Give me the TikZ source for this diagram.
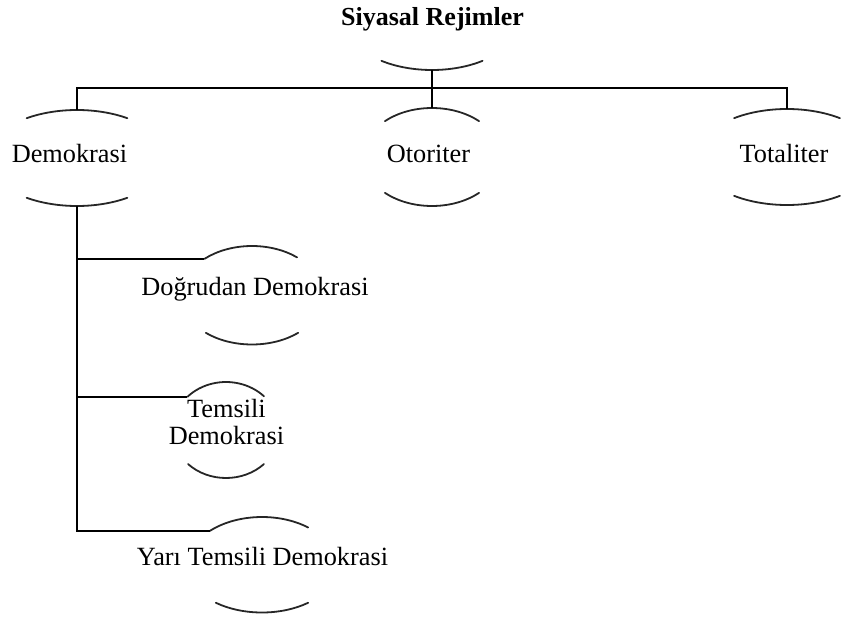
\documentclass[tikz,border=0pt]{standalone}
\usepackage{fontspec}
\setmainfont{Liberation Serif}
\begin{document}
\begin{tikzpicture}[x=1pt,y=1pt,
  lbl/.style={font=\fontsize{26.3}{27}\selectfont, inner sep=0pt, anchor=base, align=center},
  titlelbl/.style={font=\bfseries\fontsize{26}{27}\selectfont, inner sep=0pt, anchor=base},
  conn/.style={line width=2pt, black},
  arcline/.style={line width=1.8pt, black!85, line cap=round}]
\useasboundingbox (0,0) rectangle (843,-623);

% texts
\node[titlelbl] (title) at (432.5,-26) {Siyasal Rejimler};
\node[lbl] (dem) at (69.5,-162) {Demokrasi};
\node[lbl] (oto) at (428.5,-162) {Otoriter};
\node[lbl] (tot) at (784,-162) {Totaliter};
\node[lbl] (dog) at (255,-295) {Do\u{g}rudan Demokrasi};
\node[lbl, anchor=center] (tem) at (226.5,-422.5) {Temsili\\Demokrasi};
\node[lbl] (yar) at (262.5,-565) {Yar\i{} Temsili Demokrasi};

% ellipse centres
\coordinate (rootC) at (432,-22);
\coordinate (demC) at (77,-158);
\coordinate (otoC) at (432,-157);
\coordinate (totC) at (787,-157);
\coordinate (dogC) at (252,-296);
\coordinate (temC) at (226,-430.5);
\coordinate (yarC) at (262,-566.5);

% visible arcs of the ellipses
\draw[arcline] (rootC) ++(234:86 and 48) arc[start angle=234, end angle=306, x radius=86, y radius=48];

\draw[arcline] (demC) ++(56:90 and 48) arc[start angle=56, end angle=124, x radius=90, y radius=48];
\draw[arcline] (demC) ++(236:90 and 48) arc[start angle=236, end angle=304, x radius=90, y radius=48];

\draw[arcline] (otoC) ++(47:69 and 49) arc[start angle=47, end angle=133, x radius=69, y radius=49];
\draw[arcline] (otoC) ++(227:69 and 49) arc[start angle=227, end angle=313, x radius=69, y radius=49];

\draw[arcline] (totC) ++(54:90 and 48) arc[start angle=54, end angle=126, x radius=90, y radius=48];
\draw[arcline] (totC) ++(234:90 and 48) arc[start angle=234, end angle=306, x radius=90, y radius=48];

\draw[arcline] (dogC) ++(50.6:71 and 50) arc[start angle=50.6, end angle=132, x radius=71, y radius=50];
\draw[arcline] (dogC) ++(229.4:71 and 48.5) arc[start angle=229.4, end angle=310.6, x radius=71, y radius=48.5];

\draw[arcline] (temC) ++(44.8:53.6 and 48.5) arc[start angle=44.8, end angle=136, x radius=53.6, y radius=48.5];
\draw[arcline] (temC) ++(225:53.6 and 47.5) arc[start angle=225, end angle=315, x radius=53.6, y radius=47.5];

\draw[arcline] (yarC) ++(52:75 and 49.5) arc[start angle=52, end angle=134, x radius=75, y radius=49.5];
\draw[arcline] (yarC) ++(232:75 and 46) arc[start angle=232, end angle=308, x radius=75, y radius=46];

% connection points
\path (rootC) ++(270:86 and 48) coordinate (rootB);
\path (demC) ++(90:90 and 48) coordinate (demT);
\path (demC) ++(270:90 and 48) coordinate (demB);
\path (otoC) ++(90:69 and 49) coordinate (otoT);
\path (totC) ++(90:90 and 48) coordinate (totT);
\path (dogC) ++(132:71 and 50) coordinate (dogW);
\path (temC) ++(136:53.6 and 48.5) coordinate (temW);
\path (yarC) ++(134:75 and 49.5) coordinate (yarW);
\coordinate (bus) at (432,-88);

% connectors
\draw[conn] (rootB) -- (otoT);
\draw[conn] (demT) |- (bus) -| (totT);
\draw[conn] (demB) |- (dogW);
\draw[conn] (demB) |- (temW);
\draw[conn] (demB) |- (yarW);
\end{tikzpicture}
\end{document}
